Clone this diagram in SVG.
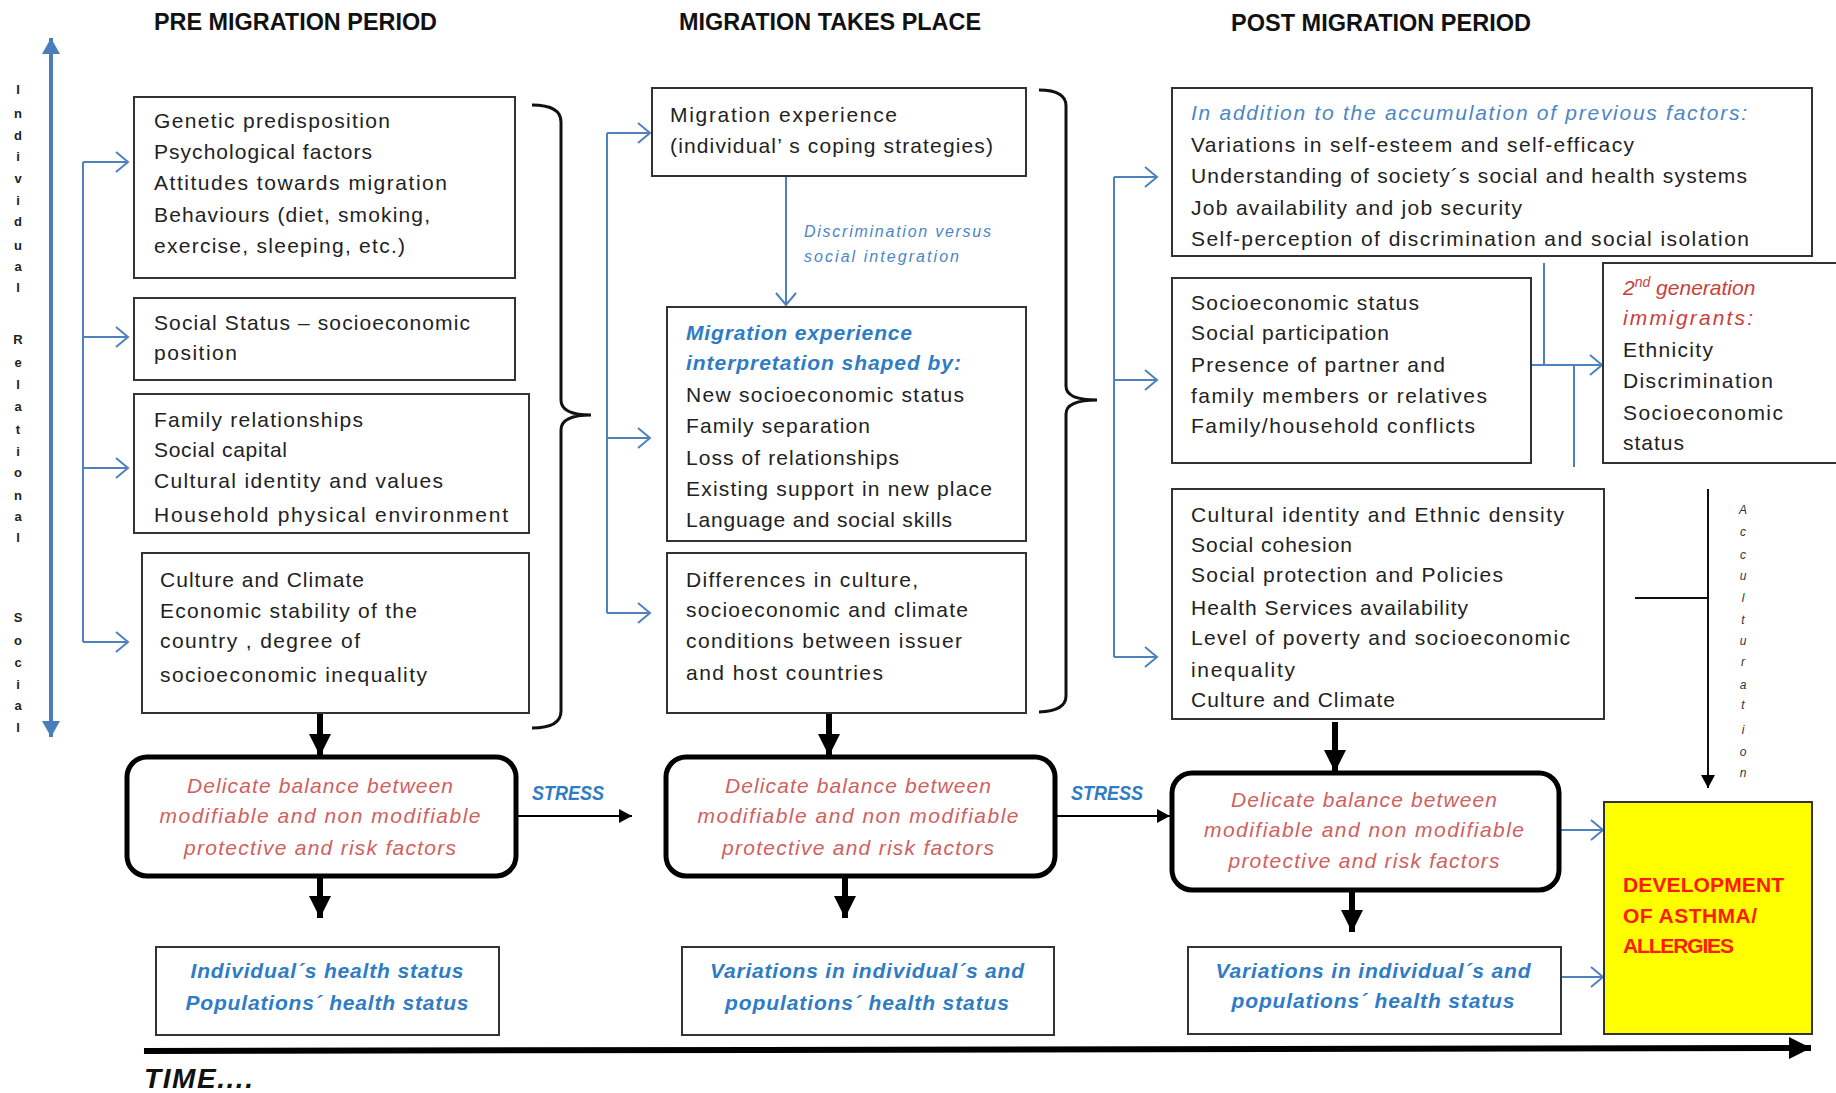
<svg xmlns="http://www.w3.org/2000/svg" width="1836" height="1093" viewBox="0 0 1836 1093">
<defs>
<style>
.t{font-family:"Liberation Sans",Arial,sans-serif;font-size:21px;fill:#222}
.hd{font-family:"Liberation Sans",Arial,sans-serif;font-size:24px;font-weight:bold;fill:#111}
.bi{font-family:"Liberation Sans",Arial,sans-serif;font-size:21px;font-weight:bold;font-style:italic;fill:#2e7cc4}
.st{font-family:"Liberation Sans",Arial,sans-serif;font-size:20px;font-weight:bold;font-style:italic;fill:#2e7cc4}
.ib{font-family:"Liberation Sans",Arial,sans-serif;font-size:21px;font-style:italic;fill:#4a86c8}
.rd{font-family:"Liberation Sans",Arial,sans-serif;font-size:21px;font-style:italic;fill:#d0605e}
.r2{font-family:"Liberation Sans",Arial,sans-serif;font-size:21px;font-style:italic;fill:#c8403c}
.sm{font-family:"Liberation Sans",Arial,sans-serif;font-size:16px;font-style:italic;fill:#4a86c8}
.vl{font-family:"Liberation Sans",Arial,sans-serif;font-size:13px;font-weight:bold;fill:#222;text-anchor:middle}
.va{font-family:"Liberation Sans",Arial,sans-serif;font-size:12px;font-style:italic;fill:#333;text-anchor:middle}
.box{fill:#fff;stroke:#333;stroke-width:2}
.rbox{fill:#fff;stroke:#000;stroke-width:5}
.bl{fill:none;stroke:#4f81bd;stroke-width:2}
.bla{fill:none;stroke:#4f81bd;stroke-width:2;marker-end:url(#chev)}
.thk{fill:none;stroke:#000;stroke-width:6;marker-end:url(#big)}
.thin{fill:none;stroke:#000;stroke-width:2;marker-end:url(#small)}
.brace{fill:none;stroke:#111;stroke-width:3}
</style>
<marker id="chev" markerUnits="userSpaceOnUse" markerWidth="16" markerHeight="22" refX="14" refY="11" orient="auto">
<path d="M2,1 L14,11 L2,21" fill="none" stroke="#4f81bd" stroke-width="2"/>
</marker>
<marker id="big" markerUnits="userSpaceOnUse" markerWidth="24" markerHeight="22" refX="22" refY="11" orient="auto">
<path d="M0,0 L22,11 L0,22 Z" fill="#000"/>
</marker>
<marker id="small" markerUnits="userSpaceOnUse" markerWidth="14" markerHeight="14" refX="13" refY="7" orient="auto">
<path d="M0,0 L13,7 L0,14 Z" fill="#000"/>
</marker>
<marker id="bigblue" markerUnits="userSpaceOnUse" markerWidth="18" markerHeight="18" refX="16" refY="9" orient="auto">
<path d="M0,0 L16,9 L0,18 Z" fill="#4a7ebb"/>
</marker>
<marker id="bigbluestart" markerUnits="userSpaceOnUse" markerWidth="18" markerHeight="18" refX="16" refY="9" orient="auto-start-reverse">
<path d="M0,0 L16,9 L0,18 Z" fill="#4a7ebb"/>
</marker>
</defs>
<rect width="1836" height="1093" fill="#fff"/>

<!-- titles -->
<g id="titles">
<text class="hd" x="154" y="30" textLength="283" lengthAdjust="spacingAndGlyphs">PRE MIGRATION  PERIOD</text>
<text class="hd" x="679" y="30" textLength="302" lengthAdjust="spacingAndGlyphs">MIGRATION TAKES PLACE</text>
<text class="hd" x="1231" y="31" textLength="300" lengthAdjust="spacingAndGlyphs">POST MIGRATION  PERIOD</text>
</g>

<!-- vertical axis -->
<g id="axis">
<line x1="51" y1="38" x2="51" y2="737" stroke="#4a7ebb" stroke-width="4" marker-start="url(#bigbluestart)" marker-end="url(#bigblue)"/>
<text class="vl" x="18" y="94">I</text><text class="vl" x="18" y="118">n</text><text class="vl" x="18" y="140">d</text><text class="vl" x="18" y="161">i</text><text class="vl" x="18" y="183">v</text><text class="vl" x="18" y="205">i</text><text class="vl" x="18" y="226">d</text><text class="vl" x="18" y="250">u</text><text class="vl" x="18" y="271">a</text><text class="vl" x="18" y="292">l</text>
<text class="vl" x="18" y="344">R</text><text class="vl" x="18" y="367">e</text><text class="vl" x="18" y="389">l</text><text class="vl" x="18" y="411">a</text><text class="vl" x="18" y="434">t</text><text class="vl" x="18" y="456">i</text><text class="vl" x="18" y="477">o</text><text class="vl" x="18" y="500">n</text><text class="vl" x="18" y="521">a</text><text class="vl" x="18" y="542">l</text>
<text class="vl" x="18" y="622">S</text><text class="vl" x="18" y="645">o</text><text class="vl" x="18" y="667">c</text><text class="vl" x="18" y="689">i</text><text class="vl" x="18" y="710">a</text><text class="vl" x="18" y="732">l</text>
</g>

<!-- connectors -->
<g id="connectors">
<line class="bl" x1="83" y1="162" x2="83" y2="642"/>
<line class="bla" x1="83" y1="162" x2="128" y2="162"/>
<line class="bla" x1="83" y1="337" x2="128" y2="337"/>
<line class="bla" x1="83" y1="468" x2="128" y2="468"/>
<line class="bla" x1="83" y1="642" x2="128" y2="642"/>
<line class="bl" x1="607" y1="133" x2="607" y2="613"/>
<line class="bla" x1="607" y1="133" x2="650" y2="133"/>
<line class="bla" x1="607" y1="438" x2="650" y2="438"/>
<line class="bla" x1="607" y1="613" x2="650" y2="613"/>
<line class="bl" x1="1114" y1="177" x2="1114" y2="657"/>
<line class="bla" x1="1114" y1="177" x2="1157" y2="177"/>
<line class="bla" x1="1114" y1="380" x2="1157" y2="380"/>
<line class="bla" x1="1114" y1="657" x2="1157" y2="657"/>
<line class="bla" x1="786" y1="176" x2="786" y2="305"/>
<line class="bl" x1="1544" y1="263" x2="1544" y2="365"/>
<line class="bla" x1="1531" y1="365" x2="1602" y2="365"/>
<line class="bl" x1="1574" y1="365" x2="1574" y2="467"/>
<line class="bla" x1="1559" y1="830" x2="1603" y2="830"/>
<line class="bla" x1="1561" y1="977" x2="1603" y2="977"/>
<path class="brace" d="M532,105 Q561,105 561,122 L561,400 Q561,415 591,415 Q561,415 561,430 L561,711 Q561,728 532,728"/>
<path class="brace" d="M1039,90 Q1066,90 1066,106 L1066,386 Q1066,400 1097,400 Q1066,400 1066,414 L1066,696 Q1066,711 1039,712"/>
<line class="thk" x1="320" y1="713" x2="320" y2="756"/>
<line class="thk" x1="829" y1="713" x2="829" y2="756"/>
<line class="thk" x1="1335" y1="722" x2="1335" y2="772"/>
<line class="thk" x1="320" y1="876" x2="320" y2="918"/>
<line class="thk" x1="845" y1="876" x2="845" y2="918"/>
<line class="thk" x1="1352" y1="890" x2="1352" y2="932"/>
<line class="thin" x1="516" y1="816" x2="632" y2="816"/>
<line class="thin" x1="1055" y1="816" x2="1170" y2="816"/>
<line x1="1708" y1="489" x2="1708" y2="788" stroke="#111" stroke-width="2" marker-end="url(#small)"/>
<line x1="1635" y1="598" x2="1708" y2="598" stroke="#111" stroke-width="2"/>
<line x1="144" y1="1051" x2="1811" y2="1048" stroke="#000" stroke-width="6" marker-end="url(#big)"/>
</g>

<!-- pre migration nodes -->
<g id="pre1">
<rect class="box" x="134" y="97" width="381" height="181"/>
<text class="t" x="154" y="128" textLength="236">Genetic predisposition</text>
<text class="t" x="154" y="159" textLength="218">Psychological factors</text>
<text class="t" x="154" y="190" textLength="293">Attitudes towards migration</text>
<text class="t" x="154" y="222" textLength="276">Behaviours (diet, smoking,</text>
<text class="t" x="154" y="253" textLength="251">exercise, sleeping,  etc.)</text>
</g>
<g id="pre2">
<rect class="box" x="134" y="298" width="381" height="82"/>
<text class="t" x="154" y="330" textLength="316">Social Status – socioeconomic</text>
<text class="t" x="154" y="360" textLength="83">position</text>
</g>
<g id="pre3">
<rect class="box" x="134" y="394" width="395" height="139"/>
<text class="t" x="154" y="427" textLength="209">Family relationships</text>
<text class="t" x="154" y="457" textLength="133">Social capital</text>
<text class="t" x="154" y="488" textLength="289">Cultural identity and values</text>
<text class="t" x="154" y="522" textLength="354">Household physical   environment</text>
</g>
<g id="pre4">
<rect class="box" x="142" y="553" width="387" height="160"/>
<text class="t" x="160" y="587" textLength="204">Culture and Climate</text>
<text class="t" x="160" y="618" textLength="257">Economic stability of the</text>
<text class="t" x="160" y="648" textLength="200">country , degree of</text>
<text class="t" x="160" y="682" textLength="267">socioeconomic inequality</text>
</g>
<g id="bal1">
<rect class="rbox" x="127" y="757" width="389" height="119" rx="20"/>
<text class="rd" x="320" y="793" text-anchor="middle" textLength="266">Delicate balance between</text>
<text class="rd" x="320" y="823" text-anchor="middle" textLength="321">modifiable and non modifiable</text>
<text class="rd" x="320" y="855" text-anchor="middle" textLength="272">protective and risk factors</text>
</g>
<g id="health1">
<rect class="box" x="156" y="947" width="343" height="88"/>
<text class="bi" x="327" y="978" text-anchor="middle" textLength="273">Individual´s health status</text>
<text class="bi" x="327" y="1010" text-anchor="middle" textLength="283">Populations´ health status</text>
</g>
<g id="stress1"><text class="st" x="532" y="800" textLength="72" lengthAdjust="spacingAndGlyphs">STRESS</text></g>

<!-- migration nodes -->
<g id="mig1">
<rect class="box" x="652" y="88" width="374" height="88"/>
<text class="t" x="670" y="122" textLength="227">Migration experience</text>
<text class="t" x="670" y="153" textLength="323">(individual’ s coping strategies)</text>
</g>
<g id="disc-label">
<text class="sm" x="804" y="237" textLength="187">Discrimination versus</text>
<text class="sm" x="804" y="262" textLength="155">social integration</text>
</g>
<g id="mig2">
<rect class="box" x="667" y="307" width="359" height="234"/>
<text class="bi" x="686" y="340" textLength="226">Migration experience</text>
<text class="bi" x="686" y="370" textLength="275">interpretation shaped by:</text>
<text class="t" x="686" y="402" textLength="278">New socioeconomic status</text>
<text class="t" x="686" y="433" textLength="184">Family separation</text>
<text class="t" x="686" y="465" textLength="213">Loss of relationships</text>
<text class="t" x="686" y="496" textLength="306">Existing support in new place</text>
<text class="t" x="686" y="527" textLength="266">Language and social skills</text>
</g>
<g id="mig3">
<rect class="box" x="667" y="553" width="359" height="160"/>
<text class="t" x="686" y="587" textLength="232">Differences in culture,</text>
<text class="t" x="686" y="617" textLength="282">socioeconomic and climate</text>
<text class="t" x="686" y="648" textLength="276">conditions between issuer</text>
<text class="t" x="686" y="680" textLength="197">and host countries</text>
</g>
<g id="bal2">
<rect class="rbox" x="666" y="757" width="389" height="119" rx="20"/>
<text class="rd" x="858" y="793" text-anchor="middle" textLength="266">Delicate balance between</text>
<text class="rd" x="858" y="823" text-anchor="middle" textLength="321">modifiable and non modifiable</text>
<text class="rd" x="858" y="855" text-anchor="middle" textLength="272">protective and risk factors</text>
</g>
<g id="health2">
<rect class="box" x="682" y="947" width="372" height="88"/>
<text class="bi" x="867" y="978" text-anchor="middle" textLength="314">Variations in individual´s  and</text>
<text class="bi" x="867" y="1010" text-anchor="middle" textLength="284">populations´ health status</text>
</g>
<g id="stress2"><text class="st" x="1071" y="800" textLength="72" lengthAdjust="spacingAndGlyphs">STRESS</text></g>

<!-- post migration nodes -->
<g id="post1">
<rect class="box" x="1172" y="88" width="640" height="168"/>
<text class="ib" x="1191" y="120" textLength="556">In addition to the accumulation  of previous factors:</text>
<text class="t" x="1191" y="152" textLength="443">Variations in self-esteem and self-efficacy</text>
<text class="t" x="1191" y="183" textLength="556">Understanding of society´s social and health systems</text>
<text class="t" x="1191" y="215" textLength="331">Job availability  and job security</text>
<text class="t" x="1191" y="246" textLength="558">Self-perception of  discrimination  and social isolation</text>
</g>
<g id="post2">
<rect class="box" x="1172" y="278" width="359" height="185"/>
<text class="t" x="1191" y="310" textLength="228">Socioeconomic status</text>
<text class="t" x="1191" y="340" textLength="198">Social participation</text>
<text class="t" x="1191" y="372" textLength="254">Presence of partner and</text>
<text class="t" x="1191" y="403" textLength="296">family members or relatives</text>
<text class="t" x="1191" y="433" textLength="284">Family/household conflicts</text>
</g>
<g id="gen2">
<rect class="box" x="1603" y="263" width="240" height="200"/>
<text class="r2" x="1623" y="295">2<tspan font-size="14" dy="-8">nd</tspan><tspan dy="8"> generation</tspan></text>
<text class="r2" x="1623" y="325" textLength="130">immigrants:</text>
<text class="t" x="1623" y="357" textLength="90">Ethnicity</text>
<text class="t" x="1623" y="388" textLength="150">Discrimination</text>
<text class="t" x="1623" y="420" textLength="160">Socioeconomic</text>
<text class="t" x="1623" y="450" textLength="61">status</text>
</g>
<g id="post3">
<rect class="box" x="1172" y="489" width="432" height="230"/>
<text class="t" x="1191" y="522" textLength="373">Cultural identity and Ethnic density</text>
<text class="t" x="1191" y="552" textLength="161">Social cohesion</text>
<text class="t" x="1191" y="582" textLength="312">Social protection and Policies</text>
<text class="t" x="1191" y="615" textLength="277">Health Services availability</text>
<text class="t" x="1191" y="645" textLength="379">Level of poverty and socioeconomic</text>
<text class="t" x="1191" y="677" textLength="104">inequality</text>
<text class="t" x="1191" y="707" textLength="204">Culture and Climate</text>
</g>
<g id="accult">
<text class="va" x="1743" y="514">A</text><text class="va" x="1743" y="536">c</text><text class="va" x="1743" y="559">c</text><text class="va" x="1743" y="580">u</text><text class="va" x="1743" y="602">l</text><text class="va" x="1743" y="624">t</text><text class="va" x="1743" y="645">u</text><text class="va" x="1743" y="666">r</text><text class="va" x="1743" y="689">a</text><text class="va" x="1743" y="709">t</text><text class="va" x="1743" y="734">i</text><text class="va" x="1743" y="756">o</text><text class="va" x="1743" y="777">n</text>
</g>
<g id="bal3">
<rect class="rbox" x="1172" y="773" width="387" height="117" rx="20"/>
<text class="rd" x="1364" y="807" text-anchor="middle" textLength="266">Delicate balance between</text>
<text class="rd" x="1364" y="837" text-anchor="middle" textLength="320">modifiable and non modifiable</text>
<text class="rd" x="1364" y="868" text-anchor="middle" textLength="271">protective and risk factors</text>
</g>
<g id="health3">
<rect class="box" x="1188" y="947" width="373" height="87"/>
<text class="bi" x="1373" y="978" text-anchor="middle" textLength="315">Variations in individual´s  and</text>
<text class="bi" x="1373" y="1008" text-anchor="middle" textLength="283">populations´ health status</text>
</g>
<g id="outcome">
<rect x="1604" y="802" width="208" height="232" fill="#ffff00" stroke="#333" stroke-width="2"/>
<text x="1623" y="892" font-family="Liberation Sans, Arial, sans-serif" font-size="21" font-weight="bold" fill="#ff1a00" textLength="161">DEVELOPMENT</text>
<text x="1623" y="923" font-family="Liberation Sans, Arial, sans-serif" font-size="21" font-weight="bold" fill="#ff1a00" textLength="134">OF ASTHMA/</text>
<text x="1623" y="953" font-family="Liberation Sans, Arial, sans-serif" font-size="21" font-weight="bold" fill="#ff1a00" textLength="111">ALLERGIES</text>
</g>
<g id="time"><text x="144" y="1088" font-family="Liberation Sans, Arial, sans-serif" font-size="28" font-weight="bold" font-style="italic" fill="#111" textLength="109">TIME....</text></g>
</svg>
